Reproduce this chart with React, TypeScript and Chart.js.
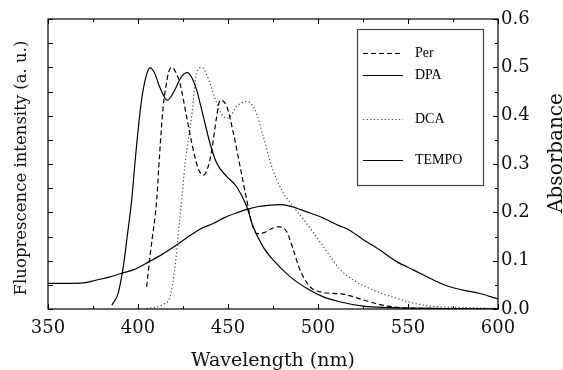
import React, { useEffect, useRef } from "react";
import { Chart, registerables } from "chart.js";

Chart.register(...registerables);

// ---- Data (wavelength in nm, normalised intensity / absorbance) ----
const perX = [404.8, 407, 410.4, 412, 414, 415.5, 417, 418.7, 421, 423.3, 427, 430.7, 433.5, 436.3, 439, 441, 443.7, 445.6, 449.3, 453, 456.7, 460.4, 463, 466, 470, 474, 478, 482.6, 486.3, 490, 495.6, 503, 510, 516, 525, 536, 549, 570, 600];
const perY = [0.046, 0.12, 0.226, 0.32, 0.419, 0.46, 0.49, 0.5, 0.49, 0.467, 0.398, 0.329, 0.29, 0.277, 0.295, 0.329, 0.398, 0.432, 0.419, 0.364, 0.295, 0.226, 0.18, 0.156, 0.158, 0.166, 0.17, 0.16, 0.122, 0.081, 0.046, 0.034, 0.032, 0.029, 0.019, 0.008, 0.002, 0.001, 0.0];

const dpaX = [385.5, 389, 391.8, 394, 396.5, 399, 402, 405, 406.7, 409, 412, 416.3, 420, 424, 427.4, 430, 432.6, 436.3, 440, 443.7, 449.3, 454.8, 460.4, 464, 469.6, 475.2, 484.4, 493.7, 503, 512, 525, 540, 550, 570, 600];
const dpaY = [0.008, 0.033, 0.087, 0.15, 0.226, 0.33, 0.433, 0.488, 0.499, 0.49, 0.46, 0.432, 0.45, 0.48, 0.489, 0.478, 0.453, 0.398, 0.343, 0.302, 0.274, 0.253, 0.212, 0.17, 0.128, 0.101, 0.067, 0.043, 0.025, 0.015, 0.006, 0.003, 0.002, 0.001, 0.0];

const dcaX = [404.8, 412, 415, 417.8, 420.6, 422.4, 424.3, 426, 429.8, 432.6, 435.4, 440, 443.7, 447, 450.2, 454.8, 460.4, 465, 469.6, 474.3, 479.8, 486.3, 493.7, 503, 507, 512, 519.6, 530.7, 543.7, 558.5, 580.6, 600];
const dcaY = [0.001, 0.006, 0.012, 0.025, 0.088, 0.157, 0.226, 0.295, 0.398, 0.488, 0.5, 0.467, 0.426, 0.4, 0.395, 0.419, 0.429, 0.412, 0.357, 0.295, 0.246, 0.212, 0.177, 0.129, 0.108, 0.083, 0.06, 0.039, 0.022, 0.008, 0.003, 0.001];

const tempoX = [350, 360, 369.6, 377, 384, 391, 397.4, 406.7, 413, 419.6, 428.9, 434.4, 441.8, 448, 454.8, 460.4, 467, 473.3, 478.5, 484.4, 493.7, 503, 512, 516, 525, 534.4, 543.7, 553, 562, 571.5, 580.7, 590, 599, 600];
const tempoY = [0.053, 0.053, 0.054, 0.06, 0.066, 0.074, 0.081, 0.099, 0.112, 0.128, 0.152, 0.165, 0.177, 0.189, 0.199, 0.206, 0.212, 0.215, 0.216, 0.213, 0.201, 0.188, 0.172, 0.166, 0.144, 0.122, 0.098, 0.081, 0.064, 0.048, 0.039, 0.032, 0.022, 0.021];

const seriesNames = ["Per", "DPA", "DCA", "TEMPO"];
const xTitle = "Wavelength (nm)";
const yLeftTitle = "Fluoprescence intensity (a. u.)";
const yRightTitle = "Absorbance";

const AXIS_FONT = "DejaVu Serif";
const LEGEND_FONT = "Liberation Serif";

const pts = (xs: number[], ys: number[]) => xs.map((x, i) => ({ x, y: ys[i] }));

const framePlugin = {
  id: "framePlugin",
  afterDraw(chart: any) {
    const { ctx, chartArea: a, scales } = chart;
    const x = scales.x;
    const y = scales.y;
    ctx.save();
    ctx.strokeStyle = "#000";
    ctx.lineWidth = 1.2;
    ctx.strokeRect(a.left, a.top, a.right - a.left, a.bottom - a.top);
    ctx.lineWidth = 1;
    ctx.beginPath();
    for (let v = 350; v <= 600; v += 25) {
      const px = Math.round(x.getPixelForValue(v)) + 0.5;
      const len = v % 50 === 0 ? 5 : 3;
      ctx.moveTo(px, a.bottom);
      ctx.lineTo(px, a.bottom - len);
      ctx.moveTo(px, a.top);
      ctx.lineTo(px, a.top + len);
    }
    for (let i = 0; i <= 12; i++) {
      const v = i * 0.05;
      const py = Math.round(y.getPixelForValue(v)) + 0.5;
      ctx.moveTo(a.left, py);
      ctx.lineTo(a.left + 5, py);
      const len = i % 2 === 0 ? 5 : 3;
      ctx.moveTo(a.right, py);
      ctx.lineTo(a.right - len, py);
    }
    ctx.stroke();

    // legend
    ctx.strokeStyle = "#444";
    ctx.lineWidth = 1.2;
    ctx.strokeRect(357.5, 29.5, 126, 156);
    const rows = [53, 75, 119, 160];
    const dashes = [[5, 3], [], [1.2, 2.4], []];
    const colors = ["#000", "#000", "#444", "#000"];
    rows.forEach((ry, i) => {
      ctx.beginPath();
      ctx.setLineDash(dashes[i]);
      ctx.strokeStyle = colors[i];
      ctx.lineWidth = 1.2;
      ctx.moveTo(363, ry + 0.5);
      ctx.lineTo(403, ry + 0.5);
      ctx.stroke();
      ctx.setLineDash([]);
      ctx.fillStyle = "#000";
      ctx.font = `14px "${LEGEND_FONT}"`;
      ctx.textAlign = "left";
      ctx.textBaseline = "middle";
      ctx.fillText(seriesNames[i], 415, ry);
    });

    // titles
    ctx.fillStyle = "#111";
    ctx.font = `19px "${AXIS_FONT}"`;
    ctx.textAlign = "center";
    ctx.textBaseline = "alphabetic";
    ctx.fillText(xTitle, (a.left + a.right) / 2, 366);

    ctx.save();
    ctx.translate(26, 168);
    ctx.rotate(-Math.PI / 2);
    ctx.font = `16.5px "${AXIS_FONT}"`;
    ctx.fillText(yLeftTitle, 0, 0);
    ctx.restore();

    ctx.save();
    ctx.translate(562, 153);
    ctx.rotate(-Math.PI / 2);
    ctx.font = `20px "${AXIS_FONT}"`;
    ctx.fillText(yRightTitle, 0, 0);
    ctx.restore();

    ctx.restore();
  },
};

export default function App() {
  const ref = useRef<HTMLCanvasElement | null>(null);
  useEffect(() => {
    if (!ref.current) return;
    const line = (label: string, data: any[], dash: number[], color: string) => ({
      label,
      data,
      borderColor: color,
      borderWidth: 1.2,
      borderDash: dash,
      pointRadius: 0,
      fill: false,
      cubicInterpolationMode: "monotone" as const,
      yAxisID: "y",
    });
    const chart = new Chart(ref.current, {
      type: "line",
      data: {
        datasets: [
          line(seriesNames[0], pts(perX, perY), [5, 3], "#000"),
          line(seriesNames[1], pts(dpaX, dpaY), [], "#000"),
          line(seriesNames[2], pts(dcaX, dcaY), [1.2, 2.4], "#444"),
          line(seriesNames[3], pts(tempoX, tempoY), [], "#000"),
        ],
      },
      options: {
        animation: false,
        responsive: false,
        layout: { padding: { top: 19, left: 0, right: 0, bottom: 0 } },
        plugins: { legend: { display: false }, tooltip: { enabled: false } },
        scales: {
          x: {
            type: "linear",
            position: "bottom",
            min: 350,
            max: 600,
            grid: { display: false, drawTicks: false },
            border: { display: false },
            ticks: { stepSize: 50, padding: 9, color: "#111", font: { family: AXIS_FONT, size: 18 }, maxRotation: 0 },
            afterFit: (s: any) => { s.height = 61; },
          },
          y: {
            type: "linear",
            position: "left",
            min: 0,
            max: 0.6,
            grid: { display: false, drawTicks: false },
            border: { display: false },
            ticks: { display: false },
            afterFit: (s: any) => { s.width = 48; },
          },
          y2: {
            type: "linear",
            position: "right",
            min: 0,
            max: 0.6,
            grid: { display: false, drawTicks: false },
            border: { display: false },
            ticks: {
              stepSize: 0.1,
              padding: 3,
              color: "#111",
              font: { family: AXIS_FONT, size: 18 },
              callback: (v: any) => Number(v).toFixed(1),
            },
            afterFit: (s: any) => { s.width = 65; },
          },
        },
      },
      plugins: [framePlugin],
    });
    return () => chart.destroy();
  }, []);
  return (
    <div style={{ position: "fixed", left: 0, top: 0, width: 563, height: 370, background: "#fff" }}>
      <canvas ref={ref} width={563} height={370} />
    </div>
  );
}
